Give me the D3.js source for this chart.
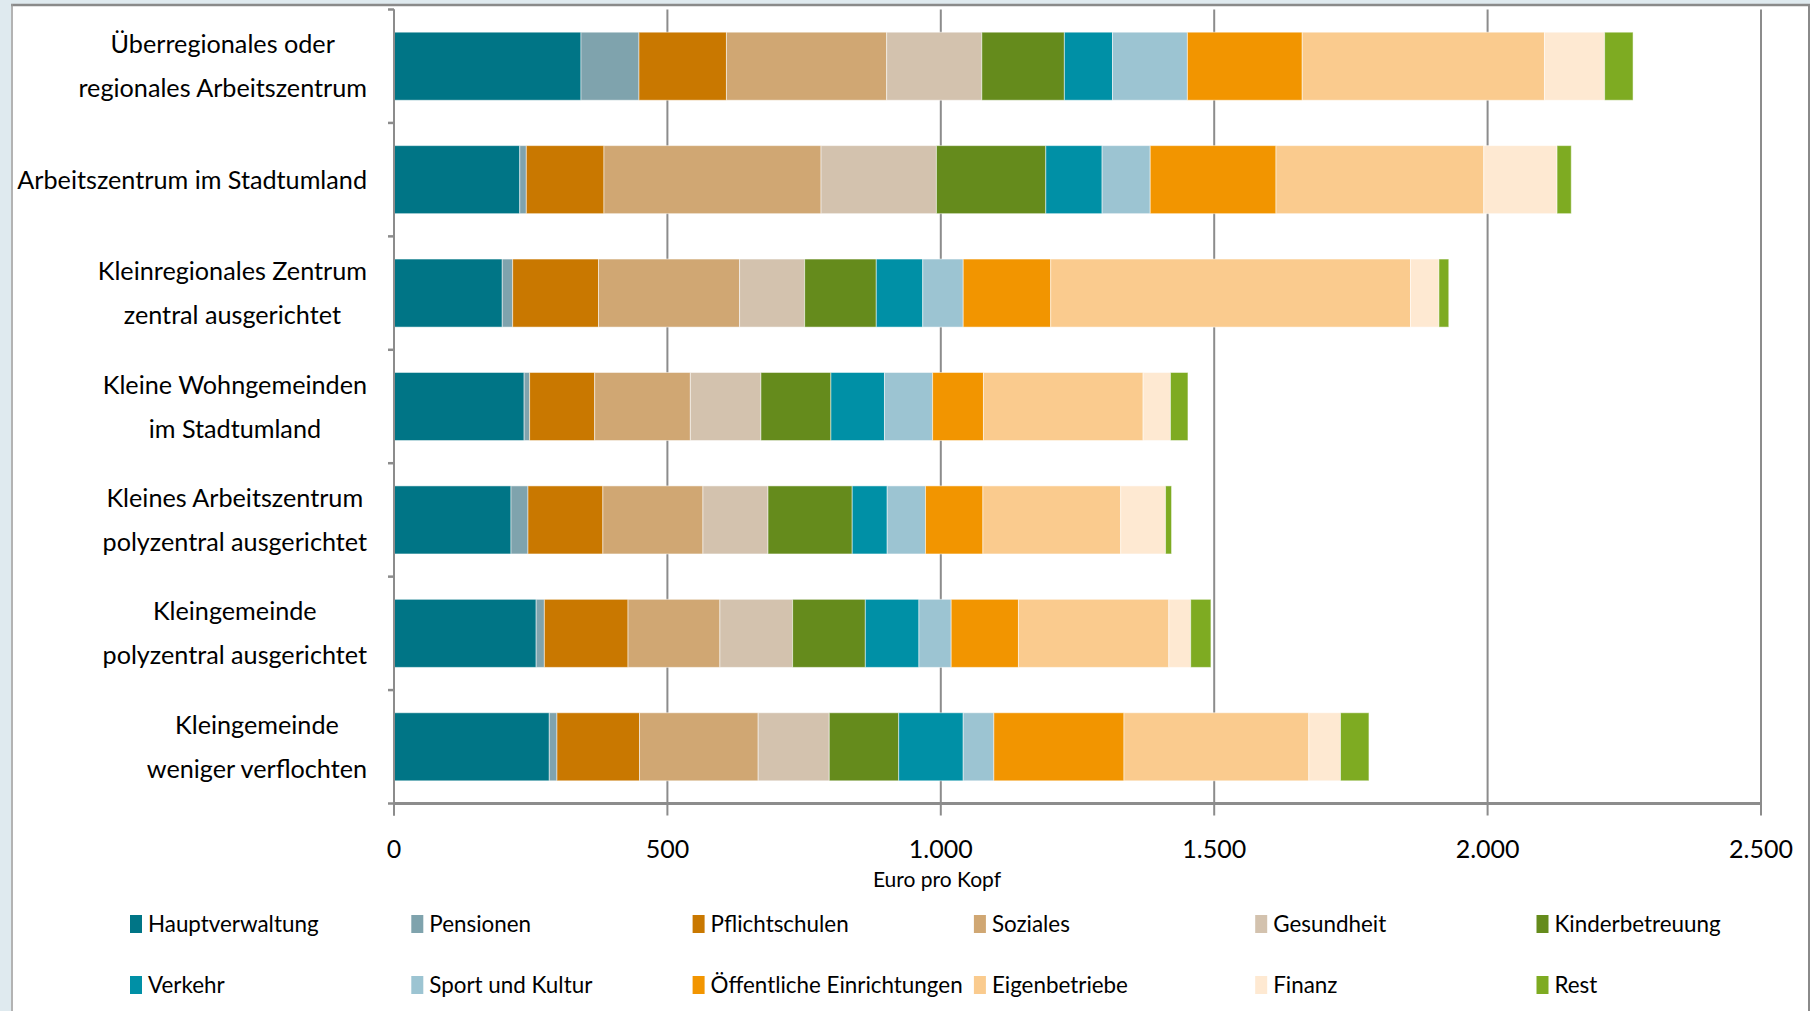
<!DOCTYPE html>
<html>
<head>
<meta charset="utf-8">
<script src="https://cdn.jsdelivr.net/npm/d3@7"></script>
<style>
  body { margin: 0; background: #dfeaef; }
  svg { display: block; }
  text { font-family: Lato, "Open Sans", sans-serif; fill: #000; }
</style>
</head>
<body>
<script>

// categories, top to bottom
var categories = [
  "Überregionales oder\nregionales Arbeitszentrum",
  "Arbeitszentrum im Stadtumland",
  "Kleinregionales Zentrum\nzentral ausgerichtet",
  "Kleine Wohngemeinden\nim Stadtumland",
  "Kleines Arbeitszentrum\npolyzentral ausgerichtet",
  "Kleingemeinde\npolyzentral ausgerichtet",
  "Kleingemeinde\nweniger verflochten"
];

var seriesNames = ["Hauptverwaltung", "Pensionen", "Pflichtschulen", "Soziales", "Gesundheit", "Kinderbetreuung",
  "Verkehr", "Sport und Kultur", "Öffentliche Einrichtungen", "Eigenbetriebe", "Finanz", "Rest"];

var seriesColors = ["#007586", "#7fa3ad", "#c97800", "#d0a773", "#d3c2ae", "#658b1c",
  "#0090a6", "#9cc4d2", "#f29500", "#facb8e", "#fee9d2", "#7eab22"];

// Euro pro Kopf, one array per series (same order as categories)
var hauptverwaltung = [342, 230, 198, 238, 214, 260, 284];
var pensionen       = [106, 12, 19, 10, 31, 15, 14];
var pflichtschulen  = [160, 142, 157, 119, 137, 153, 151];
var soziales        = [293, 397, 258, 175, 183, 168, 217];
var gesundheit      = [174, 211, 119, 129, 119, 133, 130];
var kinderbetreuung = [151, 200, 131, 128, 154, 133, 127];
var verkehr         = [88, 103, 85, 98, 64, 98, 118];
var sportKultur     = [137, 88, 74, 88, 70, 59, 56];
var oeffentliche    = [210, 230, 160, 93, 105, 123, 238];
var eigenbetriebe   = [443, 380, 658, 292, 252, 275, 338];
var finanz          = [110, 134, 52, 50, 82, 40, 58];
var rest            = [52, 26, 18, 32, 11, 37, 52];

var xTicks = [0, 500, 1000, 1500, 2000, 2500];
var xTickLabels = ["0", "500", "1.000", "1.500", "2.000", "2.500"];

var seriesValues = [hauptverwaltung, pensionen, pflichtschulen, soziales, gesundheit, kinderbetreuung,
  verkehr, sportKultur, oeffentliche, eigenbetriebe, finanz, rest];

var width = 1810;
var height = 1011;

// build rows for the stack
var rows = categories.map(function(c, i) {
  var r = {cat: c};
  seriesNames.forEach(function(s, j) { r[s] = seriesValues[j][i]; });
  return r;
});

var svg = d3.select("body").append("svg")
      .attr("width", width)
      .attr("height", height);

// white frame of the chart
svg.append("rect")
  .attr("x", 11).attr("y", 4)
  .attr("width", width - 11).attr("height", height - 4)
  .attr("fill", "#fff");
svg.append("line")
  .attr("x1", 11).attr("x2", width).attr("y1", 5).attr("y2", 5)
  .attr("stroke", "#8a8a8a").attr("stroke-width", 2.5);
svg.append("line")
  .attr("x1", 12).attr("x2", 12).attr("y1", 4).attr("y2", height)
  .attr("stroke", "#9a9a9a").attr("stroke-width", 1.5);
svg.append("line")
  .attr("x1", width - 1).attr("x2", width - 1).attr("y1", 4).attr("y2", height)
  .attr("stroke", "#8a8a8a").attr("stroke-width", 2);

var plotTop = 9.5, plotBottom = 803.5;

var x = d3.scaleLinear().domain([0, 2500]).range([394, 1761]);
var y = d3.scaleBand().domain(categories).range([plotTop, plotBottom])
  .paddingInner(0.4).paddingOuter(0.2);

// **** gridlines *****************
svg.append("g").selectAll("line")
  .data(xTicks)
  .join("line")
  .attr("x1", function(d) { return x(d); })
  .attr("x2", function(d) { return x(d); })
  .attr("y1", plotTop)
  .attr("y2", plotBottom + 12)
  .attr("stroke", "#8c8c8c")
  .attr("stroke-width", 2);

// **** bars *****************
var stack = d3.stack().keys(seriesNames);
var layers = stack(rows);

svg.append("g").selectAll("g")
  .data(layers)
  .join("g")
  .attr("fill", function(d, i) { return seriesColors[i]; })
  .selectAll("rect")
  .data(function(d) { return d; })
  .join("rect")
  .attr("x", function(d) { return x(d[0]); })
  .attr("width", function(d) { return x(d[1]) - x(d[0]); })
  .attr("y", function(d) { return y(d.data.cat); })
  .attr("height", y.bandwidth())
  .attr("stroke", "#ffffff")
  .attr("stroke-opacity", 0.5)
  .attr("stroke-width", 1);

// **** axes *****************
// left axis with ticks between categories
var bounds = categories.map(function(c) { return y(c) - y.step() * y.paddingInner() / 2; });
bounds.push(plotBottom);
bounds[0] = plotTop;

svg.append("line")
  .attr("x1", x(0)).attr("x2", x(0))
  .attr("y1", plotTop).attr("y2", plotBottom + 12)
  .attr("stroke", "#8c8c8c").attr("stroke-width", 2);

svg.append("g").selectAll("line")
  .data(bounds)
  .join("line")
  .attr("x1", x(0) - 6).attr("x2", x(0))
  .attr("y1", function(d) { return d; })
  .attr("y2", function(d) { return d; })
  .attr("stroke", "#8c8c8c").attr("stroke-width", 2.5);

svg.append("line")
  .attr("x1", x(0)).attr("x2", x(2500))
  .attr("y1", plotBottom).attr("y2", plotBottom)
  .attr("stroke", "#8c8c8c").attr("stroke-width", 3);

svg.append("g").selectAll("text")
  .data(xTicks)
  .join("text")
  .attr("x", function(d) { return x(d); })
  .attr("y", 858)
  .attr("text-anchor", "middle")
  .attr("font-size", 25)
  .text(function(d, i) { return xTickLabels[i]; });

svg.append("text")
  .attr("x", 937)
  .attr("y", 887)
  .attr("text-anchor", "middle")
  .attr("font-size", 21)
  .text("Euro pro Kopf");

// **** category labels *****************
// lines centered on each other, block right aligned
var labelRight = 367;
categories.forEach(function(c) {
  var lines = c.split("\n");
  var cy = y(c) + y.bandwidth() / 2;
  var g = svg.append("g");
  var texts = lines.map(function(l, k) {
    return g.append("text")
      .attr("y", cy + (k - (lines.length - 1) / 2) * 44 + 9)
      .attr("text-anchor", "middle")
      .attr("font-size", 25.2)
      .text(l);
  });
  var maxW = d3.max(texts, function(t) { return t.node().getComputedTextLength(); });
  texts.forEach(function(t) { t.attr("x", labelRight - maxW / 2); });
});

// **** legend *****************
var legend = svg.append("g").selectAll("g")
  .data(seriesNames)
  .join("g")
  .attr("transform", function(d, i) {
    return "translate(" + (130 + (i % 6) * 281.3) + "," + (915 + Math.floor(i / 6) * 61) + ")";
  });

legend.append("rect")
  .attr("width", 12)
  .attr("height", 18)
  .attr("fill", function(d, i) { return seriesColors[i]; });

legend.append("text")
  .attr("x", 18)
  .attr("y", 17)
  .attr("font-size", 22.4)
  .text(function(d) { return d; });

</script>
</body>
</html>
